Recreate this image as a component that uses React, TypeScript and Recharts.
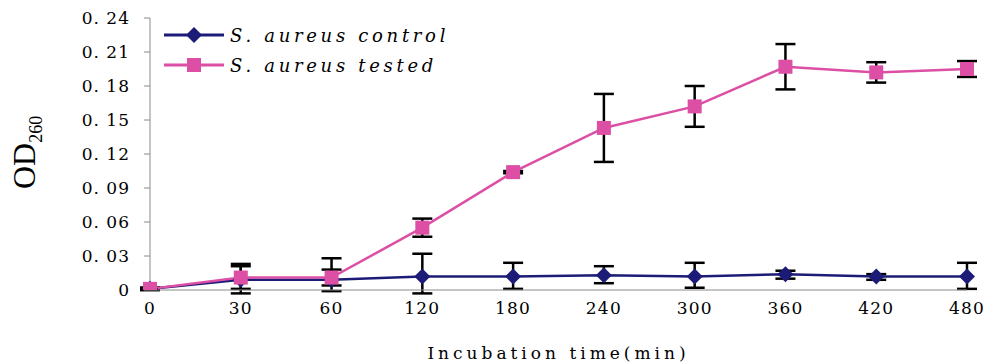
import { LineChart, Line, XAxis, YAxis, ErrorBar, Legend } from 'recharts'

// incubation time (min) and OD260 readings, error bars as [lower, upper]
const times = ['0', '30', '60', '120', '180', '240', '300', '360', '420', '480']
const controlOd = [0.001, 0.009, 0.009, 0.012, 0.012, 0.013, 0.012, 0.014, 0.012, 0.012]
const controlErr = [
  [0.001, 0.001], [0.012, 0.014], [0.01, 0.019], [0.015, 0.02], [0.011, 0.012],
  [0.007, 0.008], [0.01, 0.012], [0.004, 0.003], [0.003, 0.002], [0.011, 0.012],
]
const testedOd = [0.001, 0.011, 0.011, 0.055, 0.104, 0.143, 0.162, 0.197, 0.192, 0.195]
const testedErr = [
  [0.001, 0.001], [0.01, 0.01], [0.007, 0.007], [0.008, 0.008], [0.001, 0.001],
  [0.03, 0.03], [0.018, 0.018], [0.02, 0.02], [0.009, 0.009], [0.007, 0.007],
]
const yTicks = [0, 0.03, 0.06, 0.09, 0.12, 0.15, 0.18, 0.21, 0.24]

const NAVY = '#1c1c78'
const PINK = '#dc4fa4'
const SERIF = '"DejaVu Serif", "Liberation Serif", serif'
const TIMES = '"Liberation Serif", "Times New Roman", serif'

const data = times.map((t, i) => ({
  time: t,
  control: controlOd[i],
  controlErr: controlErr[i],
  tested: testedOd[i],
  testedErr: testedErr[i],
}))

const Diamond = (props: any) => {
  const { cx, cy } = props
  if (cx == null || cy == null) return null
  return <polygon points={`${cx},${cy - 8} ${cx + 8},${cy} ${cx},${cy + 8} ${cx - 8},${cy}`} fill={NAVY} />
}

const Square = (props: any) => {
  const { cx, cy } = props
  if (cx == null || cy == null) return null
  return <rect x={cx - 7} y={cy - 7} width={14} height={14} fill={PINK} />
}

const fmtY = (v: number) => (v === 0 ? '0' : v.toFixed(2).replace('.', '. '))

const OdLabel = () => (
  <text transform="translate(35, 189) rotate(-90)" fontFamily={TIMES} fill="#000">
    <tspan fontSize={32}>OD</tspan>
    <tspan fontSize={18} dy={7}>260</tspan>
  </text>
)

const LegendBox = () => {
  const rows = [
    { name: 'S. aureus control', color: NAVY, marker: 'diamond' },
    { name: 'S. aureus tested', color: PINK, marker: 'square' },
  ]
  return (
    <div style={{ background: '#fff', padding: '0 4px' }}>
      {rows.map((r) => (
        <div key={r.name} style={{ display: 'flex', alignItems: 'center', height: 30 }}>
          <svg width={64} height={20}>
            <line x1={2} y1={10} x2={62} y2={10} stroke={r.color} strokeWidth={3} />
            {r.marker === 'diamond' ? (
              <polygon points="32,2 40,10 32,18 24,10" fill={r.color} />
            ) : (
              <rect x={25} y={3} width={14} height={14} fill={r.color} />
            )}
          </svg>
          <span style={{ fontFamily: SERIF, fontStyle: 'italic', fontSize: 18, letterSpacing: 3.7, marginLeft: 4 }}>
            {r.name}
          </span>
        </div>
      ))}
    </div>
  )
}

export default function App() {
  return (
    <div style={{ position: 'absolute', left: 0, top: 0, background: '#fff' }}>
      <LineChart width={985} height={363} data={data} margin={{ top: 18, right: 18, left: 0, bottom: 0 }}>
        <XAxis
          dataKey="time"
          height={73}
          stroke="#8a8a8a"
          tickLine={false}
          tick={{ fill: '#000', fontFamily: SERIF, fontSize: 17, letterSpacing: 1.2 }}
          tickMargin={6}
          label={{
            value: 'Incubation time(min)',
            position: 'insideBottom',
            offset: 4,
            fill: '#000',
            fontFamily: SERIF,
            fontSize: 17,
            letterSpacing: 4,
          }}
        />
        <YAxis
          width={150}
          domain={[0, 0.24]}
          allowDataOverflow
          ticks={yTicks}
          tickFormatter={fmtY}
          stroke="#8a8a8a"
          tickSize={6}
          tickMargin={14}
          tick={{ fill: '#000', fontFamily: SERIF, fontSize: 17, letterSpacing: 1 }}
          label={{ content: OdLabel }}
        />
        <Legend
          content={LegendBox}
          layout="vertical"
          verticalAlign="middle"
          align="center"
          wrapperStyle={{ left: 158, top: 20, width: 'auto' }}
        />
        <Line
          dataKey="control"
          stroke={NAVY}
          strokeWidth={2.5}
          dot={Diamond}
          activeDot={false}
          isAnimationActive={false}
        >
          <ErrorBar dataKey="controlErr" width={10} stroke="#000" strokeWidth={2.5} direction="y" />
        </Line>
        <Line
          dataKey="tested"
          stroke={PINK}
          strokeWidth={2.5}
          dot={Square}
          activeDot={false}
          isAnimationActive={false}
        >
          <ErrorBar dataKey="testedErr" width={10} stroke="#000" strokeWidth={2.5} direction="y" />
        </Line>
      </LineChart>
    </div>
  )
}
